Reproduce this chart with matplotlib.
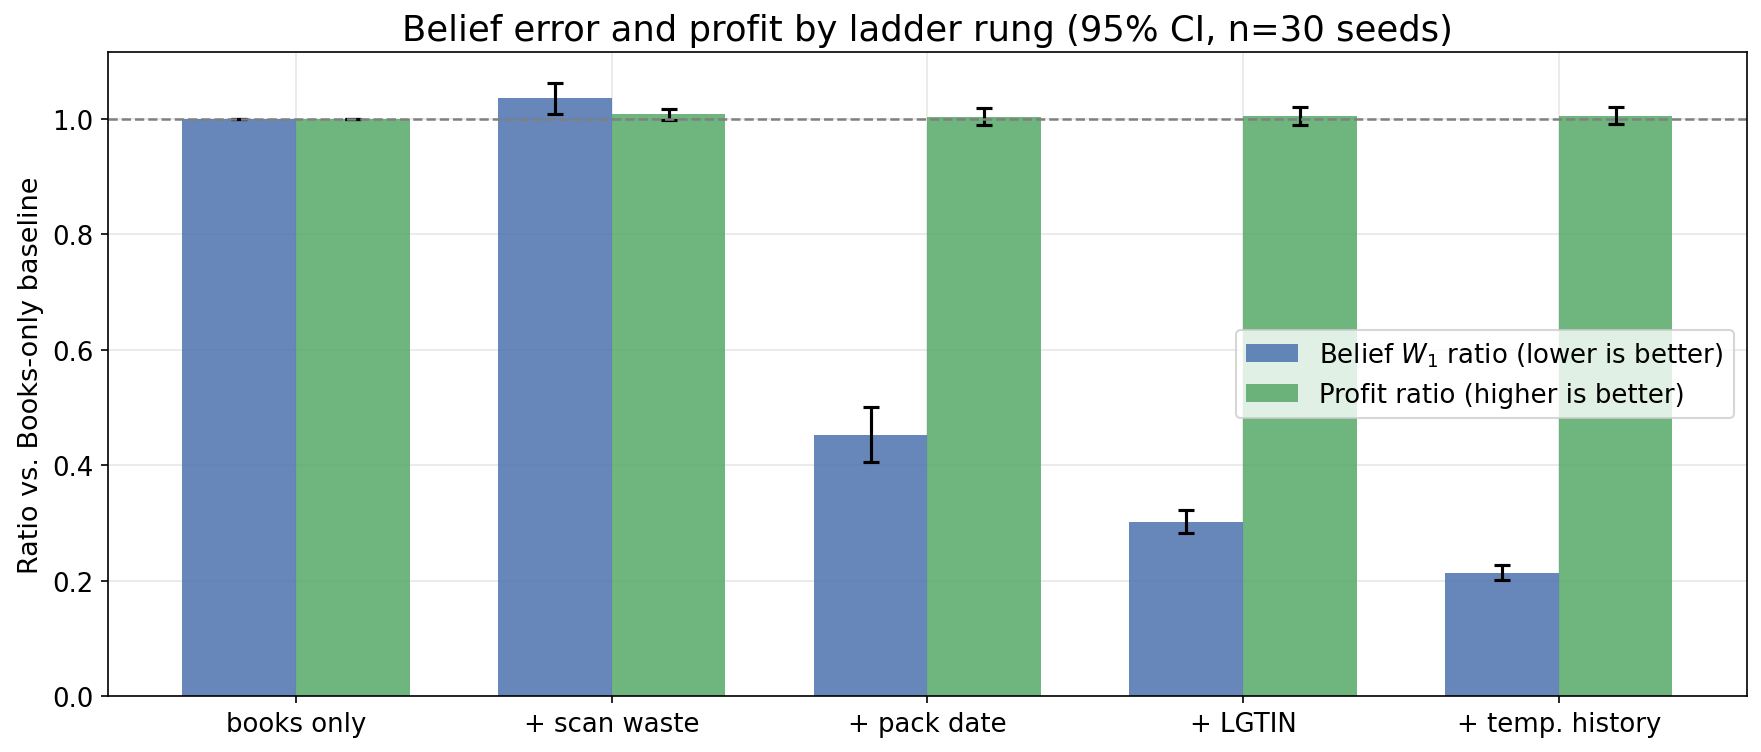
#!/usr/bin/env python3
"""Belief error and profit ratio by ladder rung, grouped bars with 95% CI."""

import matplotlib
matplotlib.use("Agg")
import matplotlib.pyplot as plt
import numpy as np

rungs = ["books only", "+ scan waste", "+ pack date", "+ LGTIN", "+ temp. history"]
belief_ratio = [1.000, 1.036, 0.453, 0.302, 0.214]
belief_ci = [0.000, 0.027, 0.048, 0.020, 0.013]
profit_ratio = [1.000, 1.008, 1.004, 1.005, 1.006]
profit_ci = [0.000, 0.009, 0.0145, 0.015, 0.014]

x = np.arange(len(rungs))
width = 0.36

fig, ax = plt.subplots(figsize=(11.74, 5.02), dpi=150)

ax.bar(x - width / 2, belief_ratio, width, yerr=belief_ci, capsize=4,
       color="#4C72B0", alpha=0.85, error_kw=dict(lw=1.5, capthick=1.5),
       label=r"Belief $W_1$ ratio (lower is better)")
ax.bar(x + width / 2, profit_ratio, width, yerr=profit_ci, capsize=4,
       color="#55A868", alpha=0.85, error_kw=dict(lw=1.5, capthick=1.5),
       label="Profit ratio (higher is better)")

ax.axhline(1.0, color="gray", ls="--", lw=1.2)

ax.set_xticks(x)
ax.set_xticklabels(rungs, fontsize=12.5)
ax.tick_params(axis="y", labelsize=12.5)
ax.set_ylabel("Ratio vs. Books-only baseline", fontsize=13)
ax.set_title("Belief error and profit by ladder rung (95% CI, n=30 seeds)", fontsize=17)
ax.set_ylim(bottom=0)
ax.grid(alpha=0.3)
ax.set_axisbelow(True)
ax.legend(loc="center right", fontsize=12.5)

fig.subplots_adjust(left=0.0613, right=0.992, top=0.9296, bottom=0.0744)
fig.savefig("out.png", dpi=150, facecolor="white")
plt.close()
